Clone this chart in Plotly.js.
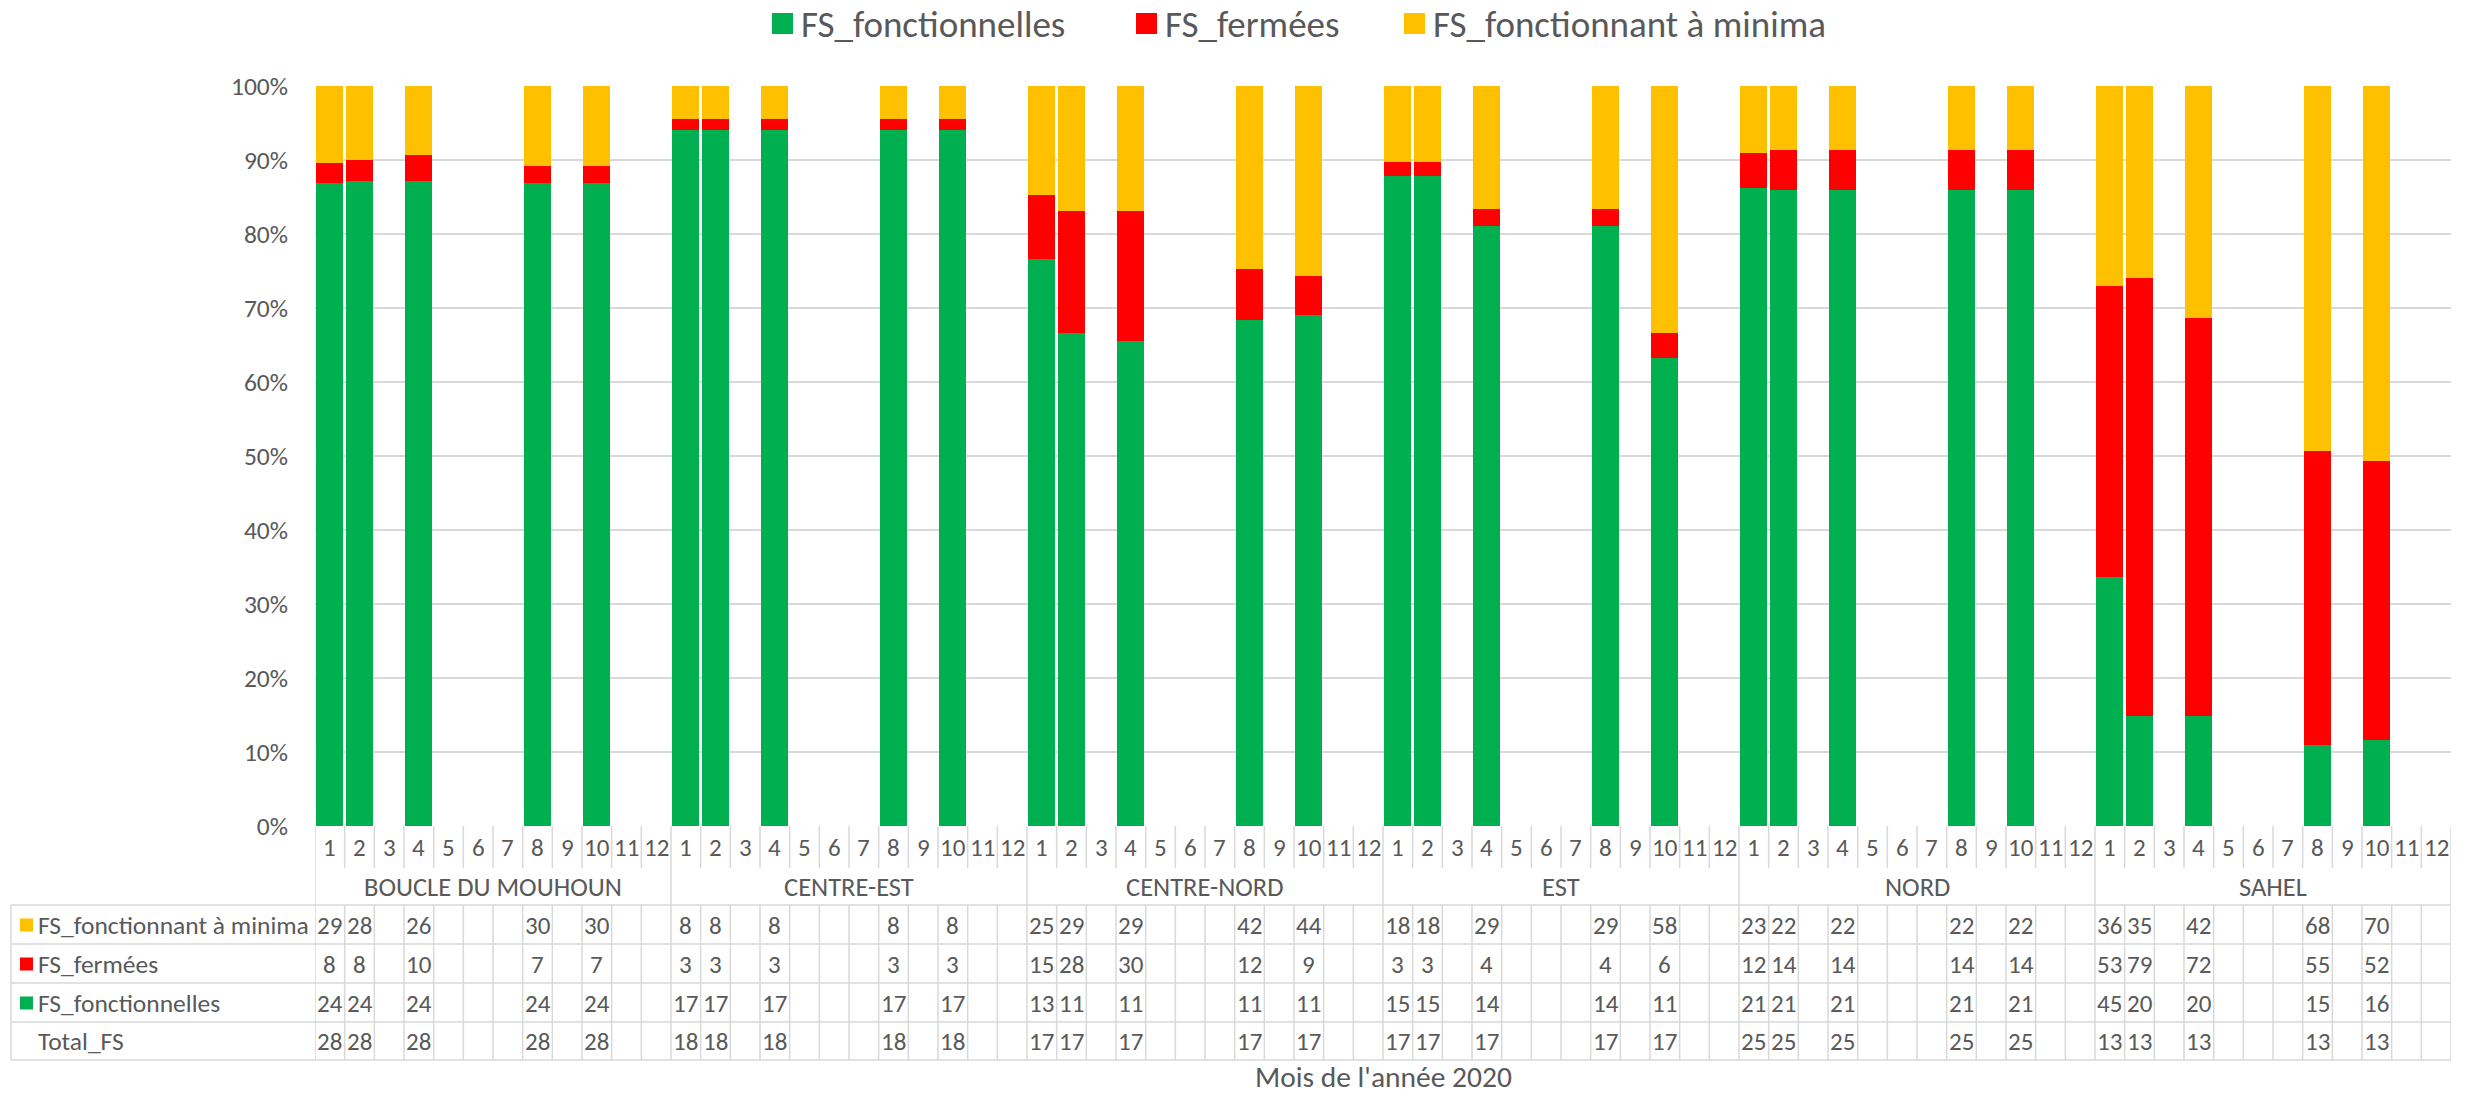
<!DOCTYPE html>
<html><head><meta charset="utf-8">
<script src="https://cdn.plot.ly/plotly-3.0.1.min.js"></script>
<style>html,body{margin:0;padding:0;background:#fff}#chart{width:2471px;height:1096px}</style>
</head><body><div id="chart"></div>
<script>
// ---------- DATA ----------
const regions = ['BOUCLE DU MOUHOUN', 'CENTRE-EST', 'CENTRE-NORD', 'EST', 'NORD', 'SAHEL'];
const months = [1, 2, 3, 4, 5, 6, 7, 8, 9, 10, 11, 12];
const seriesNames = ['FS_fonctionnelles', 'FS_fermées', 'FS_fonctionnant à minima'];
const xAxisTitle = "Mois de l'année 2020";
const yTickValues = [0, 10, 20, 30, 40, 50, 60, 70, 80, 90, 100];
const yTickLabels = ['0%', '10%', '20%', '30%', '40%', '50%', '60%', '70%', '80%', '90%', '100%'];

// bar shares (%), per region x month
const pctFonctionnelles = [
  [86.9, 87.2, null, 87.2, null, null, null, 86.9, null, 86.9, null, null],
  [94.1, 94.1, null, 94.1, null, null, null, 94.1, null, 94.1, null, null],
  [76.6, 66.6, null, 65.5, null, null, null, 68.4, null, 69.1, null, null],
  [87.9, 87.9, null, 81.1, null, null, null, 81.1, null, 63.3, null, null],
  [86.2, 85.9, null, 85.9, null, null, null, 85.9, null, 85.9, null, null],
  [33.6, 14.9, null, 14.9, null, null, null, 10.9, null, 11.6, null, null]
];
const pctFermees = [
  [2.7, 2.8, null, 3.5, null, null, null, 2.3, null, 2.3, null, null],
  [1.5, 1.5, null, 1.5, null, null, null, 1.5, null, 1.5, null, null],
  [8.7, 16.5, null, 17.6, null, null, null, 6.9, null, 5.2, null, null],
  [1.8, 1.8, null, 2.3, null, null, null, 2.3, null, 3.3, null, null],
  [4.7, 5.4, null, 5.4, null, null, null, 5.4, null, 5.4, null, null],
  [39.4, 59.1, null, 53.8, null, null, null, 39.8, null, 37.7, null, null]
];
const pctMinima = [
  [10.4, 10.0, null, 9.3, null, null, null, 10.8, null, 10.8, null, null],
  [4.4, 4.4, null, 4.4, null, null, null, 4.4, null, 4.4, null, null],
  [14.7, 16.9, null, 16.9, null, null, null, 24.7, null, 25.7, null, null],
  [10.3, 10.3, null, 16.6, null, null, null, 16.6, null, 33.4, null, null],
  [9.1, 8.7, null, 8.7, null, null, null, 8.7, null, 8.7, null, null],
  [27.0, 26.0, null, 31.3, null, null, null, 49.3, null, 50.7, null, null]
];

// data table values as printed under the chart
const tblMinima = [
  [29, 28, null, 26, null, null, null, 30, null, 30, null, null],
  [8, 8, null, 8, null, null, null, 8, null, 8, null, null],
  [25, 29, null, 29, null, null, null, 42, null, 44, null, null],
  [18, 18, null, 29, null, null, null, 29, null, 58, null, null],
  [23, 22, null, 22, null, null, null, 22, null, 22, null, null],
  [36, 35, null, 42, null, null, null, 68, null, 70, null, null]
];
const tblFermees = [
  [8, 8, null, 10, null, null, null, 7, null, 7, null, null],
  [3, 3, null, 3, null, null, null, 3, null, 3, null, null],
  [15, 28, null, 30, null, null, null, 12, null, 9, null, null],
  [3, 3, null, 4, null, null, null, 4, null, 6, null, null],
  [12, 14, null, 14, null, null, null, 14, null, 14, null, null],
  [53, 79, null, 72, null, null, null, 55, null, 52, null, null]
];
const tblFonctionnelles = [
  [24, 24, null, 24, null, null, null, 24, null, 24, null, null],
  [17, 17, null, 17, null, null, null, 17, null, 17, null, null],
  [13, 11, null, 11, null, null, null, 11, null, 11, null, null],
  [15, 15, null, 14, null, null, null, 14, null, 11, null, null],
  [21, 21, null, 21, null, null, null, 21, null, 21, null, null],
  [45, 20, null, 20, null, null, null, 15, null, 16, null, null]
];
const tblTotal = [
  [28, 28, null, 28, null, null, null, 28, null, 28, null, null],
  [18, 18, null, 18, null, null, null, 18, null, 18, null, null],
  [17, 17, null, 17, null, null, null, 17, null, 17, null, null],
  [17, 17, null, 17, null, null, null, 17, null, 17, null, null],
  [25, 25, null, 25, null, null, null, 25, null, 25, null, null],
  [13, 13, null, 13, null, null, null, 13, null, 13, null, null]
];

// ---------- STYLE / LAYOUT ----------
const COLORS = ['#00B050', '#FF0000', '#FFC000'];
const TEXT = '#595959';
const GRID = '#D9D9D9';
const FONT = 'Carlito, Calibri, Lato, "Open Sans", sans-serif';
const W = 2471, H = 1096;
const ML = 315, MR = 20, MT = 86, MB = 270;
const PW = W - ML - MR, PH = H - MT - MB;
const py = y => (H - MB - y) / PH;      // page px -> paper y
const pxX = x => (x - ML) / PW;         // page px -> paper x

const nM = months.length;
const xIdx = [], flat = a => a.flat();
regions.forEach((r, ri) => months.forEach((m, mi) => xIdx.push(ri * nM + mi)));

const seriesPct = [pctFonctionnelles, pctFermees, pctMinima];
const traces = seriesPct.map((arr, s) => ({
  type: 'bar', x: xIdx, y: flat(arr), name: seriesNames[s],
  marker: {color: COLORS[s], line: {width: 0}}, showlegend: false, hoverinfo: 'skip'
}));

const shapes = [], annotations = [];
const line = (x0, y0, x1, y1, xref) => shapes.push({type: 'line', xref: xref, yref: 'paper',
  x0: x0, x1: x1, y0: py(y0), y1: py(y1), line: {color: GRID, width: 1.5}, layer: 'below'});

// table geometry (page px)
const yMonthBot = 868, yRows = [905, 944, 983, 1022, 1060], tblLeft = 11;
yRows.forEach(y => line(pxX(tblLeft), y, 1, y, 'paper'));
line(pxX(tblLeft), yRows[0], pxX(tblLeft), yRows[4], 'paper');
for (let k = 0; k <= xIdx.length; k++) {
  const xv = k - 0.5;
  if (k % nM === 0) { line(xv, 826, xv, yRows[4], 'x'); }
  else { line(xv, 826, xv, yMonthBot, 'x'); line(xv, yRows[0], xv, yRows[4], 'x'); }
}

const ann = (o) => annotations.push(Object.assign({showarrow: false, yref: 'paper', borderpad: 0,
  font: {family: FONT, size: 25, color: TEXT}}, o));

// month numbers and region labels
xIdx.forEach((xi, i) => ann({x: xi, xref: 'x', y: py(848), text: String(months[i % nM]), yanchor: 'middle',
  font: {family: FONT, size: 25, color: TEXT}}));
regions.forEach((r, ri) => ann({x: ri * nM + (nM - 1) / 2, xref: 'x', y: py(887), text: r, yanchor: 'middle',
  font: {family: FONT, size: 26.5, color: TEXT}}));

// data-table rows
const rowLabels = ['FS_fonctionnant à minima', 'FS_fermées', 'FS_fonctionnelles', 'Total_FS'];
const rowKeys = [COLORS[2], COLORS[1], COLORS[0], null];
const rowData = [tblMinima, tblFermees, tblFonctionnelles, tblTotal];
const rowCenters = [925, 964, 1003, 1041];
rowLabels.forEach((lab, r) => {
  const yc = rowCenters[r];
  if (rowKeys[r]) shapes.push({type: 'rect', xref: 'paper', yref: 'paper',
    x0: pxX(20), x1: pxX(33), y0: py(yc - 6.5), y1: py(yc + 6.5),
    fillcolor: rowKeys[r], line: {width: 0}});
  ann({x: pxX(37), xref: 'paper', y: py(yc), text: lab, xanchor: 'left', yanchor: 'middle',
    font: {family: FONT, size: 25.5, color: TEXT}});
  flat(rowData[r]).forEach((v, i) => {
    if (v !== null) ann({x: xIdx[i], xref: 'x', y: py(yc), text: String(v), yanchor: 'middle'});
  });
});

// x axis title
ann({x: 0.5, xref: 'paper', y: py(1077), text: xAxisTitle, yanchor: 'middle', font: {family: FONT, size: 29.5, color: TEXT}});

// top legend
const legX = [772, 1136, 1404];
[0, 1, 2].forEach((s, j) => {
  shapes.push({type: 'rect', xref: 'paper', yref: 'paper', x0: pxX(legX[j]), x1: pxX(legX[j] + 21),
    y0: py(34), y1: py(13), fillcolor: COLORS[s], line: {width: 0}});
  ann({x: pxX(legX[j] + 28), xref: 'paper', y: py(1), text: seriesNames[s], xanchor: 'left', yanchor: 'top',
    font: {family: FONT, size: 37, color: TEXT}});
});

const layout = {
  width: W, height: H, margin: {l: ML, r: MR, t: MT, b: MB, pad: 0},
  paper_bgcolor: '#fff', plot_bgcolor: '#fff',
  barmode: 'stack', bargap: 0.08, showlegend: false,
  font: {family: FONT, color: TEXT},
  xaxis: {range: [-0.5, xIdx.length - 0.5], showticklabels: false, showgrid: false, zeroline: false,
    showline: false, ticks: '', fixedrange: true},
  yaxis: {range: [0, 100], tickmode: 'array', tickvals: yTickValues, ticktext: yTickLabels,
    showgrid: true, gridcolor: GRID, gridwidth: 2, zeroline: false, showline: false, ticks: '',
    ticklabelstandoff: 26, tickfont: {family: FONT, size: 25.5, color: TEXT}, fixedrange: true},
  shapes: shapes, annotations: annotations
};
Plotly.newPlot('chart', traces, layout, {displayModeBar: false, staticPlot: true});
</script>
</body></html>
